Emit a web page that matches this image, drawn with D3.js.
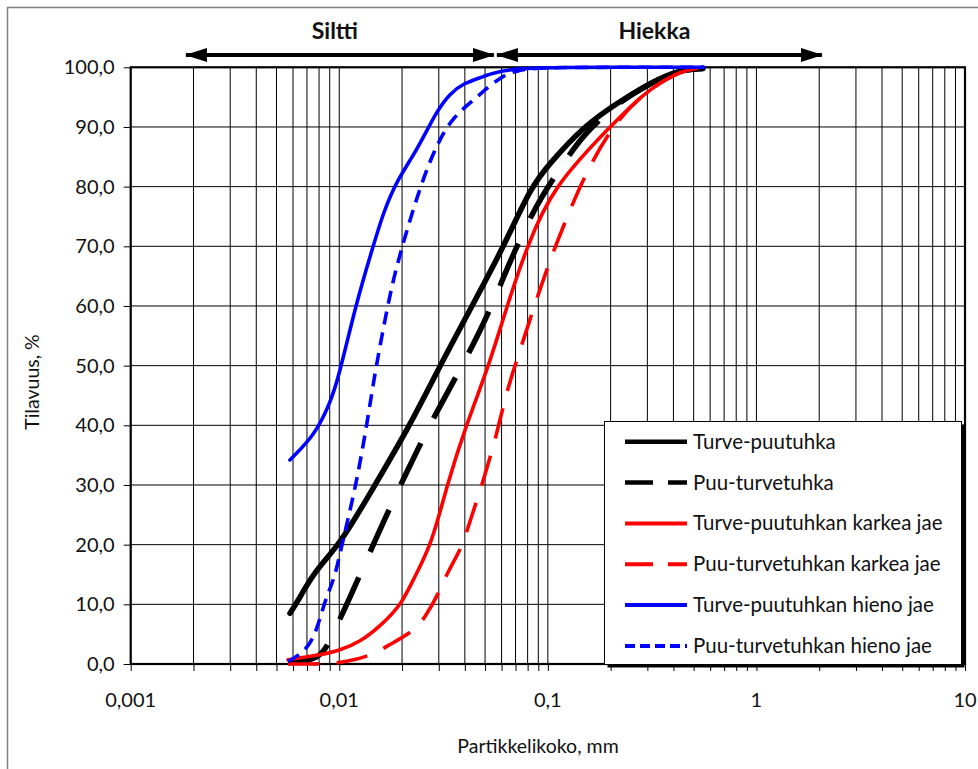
<!DOCTYPE html>
<html>
<head>
<meta charset="utf-8">
<script src="https://cdn.jsdelivr.net/npm/d3@7"></script>
<style>
  html, body { margin: 0; padding: 0; background: #fff; overflow: hidden; }
  svg { display: block; font-family: Lato, "Open Sans", sans-serif; }
</style>
</head>
<body>
<svg id="chart" width="978" height="769"></svg>
<script>
// particle size (mm), cumulative volume (%)
const turvePuutuhka = [
  [0.0058, 8.5], [0.0062, 10], [0.00765, 15.7], [0.01008, 20], [0.01483, 30],
  [0.02183, 40], [0.0304, 50], [0.0433, 60], [0.0616, 70], [0.083, 80],
  [0.1023, 83.9], [0.1474, 90], [0.2145, 94], [0.3087, 97.3], [0.4158, 99.5], [0.555, 99.8]
];
const puuTurvetuhka = [
  [0.00568, 0.2], [0.00808, 0.7], [0.00902, 4], [0.0103, 8.2], [0.01285, 15.7],
  [0.01435, 19.5], [0.0179, 27], [0.02065, 31.5], [0.0266, 39.5], [0.0297, 42.5],
  [0.03875, 50], [0.0462, 55], [0.057, 62], [0.0623, 65.5], [0.0777, 73],
  [0.0917, 78], [0.1249, 85], [0.1474, 88.6], [0.2145, 94], [0.3087, 97.3],
  [0.4158, 99.5], [0.555, 99.8]
];
const turveKarkea = [
  [0.00568, 0.7], [0.00808, 1.5], [0.01008, 2.3], [0.01257, 3.7], [0.01567, 6.3],
  [0.01991, 10], [0.02256, 14.1], [0.02773, 20], [0.03283, 30], [0.0405, 40],
  [0.0522, 50], [0.0637, 60], [0.0794, 70], [0.1058, 80], [0.1985, 90],
  [0.2858, 95.6], [0.4158, 99.2], [0.5187, 99.8]
];
const puuKarkea = [
  [0.00568, 0], [0.00826, 0], [0.00986, 0.1], [0.01404, 1.3], [0.01693, 3.0],
  [0.02256, 5.4], [0.02576, 7.7], [0.0304, 12.3], [0.03283, 15.2], [0.03875, 19.6],
  [0.04095, 22.4], [0.0489, 30.5], [0.057, 38.6], [0.0637, 45.9], [0.0719, 51.5],
  [0.0848, 59.3], [0.1023, 67.7], [0.1235, 74.9], [0.154, 82.7], [0.2051, 90.3],
  [0.2858, 95.6], [0.4158, 99.2], [0.5187, 99.8]
];
const turveHieno = [
  [0.0058, 34.2], [0.00765, 38.4], [0.00902, 43.7], [0.00986, 47.6], [0.01216, 61],
  [0.01451, 69.9], [0.0162, 75.5], [0.0189, 81.1], [0.0236, 86.1], [0.0294, 92.8],
  [0.034, 95.6], [0.0392, 97.3], [0.0489, 98.4], [0.0637, 100], [0.2, 100], [0.56, 100]
];
const puuHieno = [
  [0.00568, 0.4], [0.007, 2.3], [0.00782, 5.7], [0.00854, 10.7], [0.00943, 14.1],
  [0.01008, 18.5], [0.01089, 23.6], [0.01216, 30.8], [0.01358, 40.3], [0.01451, 46.7],
  [0.01533, 51.5], [0.0175, 62.1], [0.01954, 68.8], [0.02437, 80], [0.0294, 87.2],
  [0.0351, 91.7], [0.0457, 95], [0.0589, 98.4], [0.0711, 99.5], [0.0917, 100],
  [0.3, 100], [0.56, 100]
];

const seriesNames = [
  'Turve-puutuhka', 'Puu-turvetuhka', 'Turve-puutuhkan karkea jae',
  'Puu-turvetuhkan karkea jae', 'Turve-puutuhkan hieno jae', 'Puu-turvetuhkan hieno jae'
];
const seriesData = [turvePuutuhka, puuTurvetuhka, turveKarkea, puuKarkea, turveHieno, puuHieno];

const yTicks = [0, 10, 20, 30, 40, 50, 60, 70, 80, 90, 100];
const xDecades = [0.001, 0.01, 0.1, 1, 10];
const xLabels = ['0,001', '0,01', '0,1', '1', '10'];

// soil class bands (mm)
const bands = [
  { label: 'Siltti', from: 0.00184, to: 0.0551 },
  { label: 'Hiekka', from: 0.057, to: 2.06 }
];

// styles
const styles = [
  { color: '#000', width: 5.5, dash: null, legendDash: null, legendWidth: 4.5 },
  { color: '#000', width: 5.5, dash: '46,28', legendDash: '28,15', legendWidth: 4.5 },
  { color: '#ff0000', width: 3.6, dash: null, legendDash: null, legendWidth: 4 },
  { color: '#ff0000', width: 3.6, dash: '31,18', legendDash: '28,15', legendWidth: 4 },
  { color: '#0000ff', width: 3.6, dash: null, legendDash: null, legendWidth: 4 },
  { color: '#0000ff', width: 3.6, dash: '13,8', legendDash: '10,5', legendWidth: 4 }
];

const svg = d3.select('#chart');

// outer chart border
svg.append('rect')
  .attr('x', 7.5).attr('y', 7.5)
  .attr('width', 990).attr('height', 790)
  .attr('fill', '#fff').attr('stroke', '#808080').attr('stroke-width', 1.5);

const x = d3.scaleLog().domain([0.001, 10]).range([130.7, 965]);
const y = d3.scaleLinear().domain([0, 100]).range([664, 67.3]);

// gridlines
const grid = svg.append('g');
grid.selectAll('line.v')
  .data(x.ticks())
  .join('line')
  .attr('class', 'v')
  .attr('x1', d => x(d)).attr('x2', d => x(d))
  .attr('y1', y(0)).attr('y2', y(100))
  .attr('stroke', '#000').attr('stroke-width', 1);
grid.selectAll('line.h')
  .data(yTicks)
  .join('line')
  .attr('class', 'h')
  .attr('x1', x(0.001)).attr('x2', x(10))
  .attr('y1', d => y(d)).attr('y2', d => y(d))
  .attr('stroke', '#000').attr('stroke-width', 1);

// plot frame
svg.append('rect')
  .attr('x', x(0.001)).attr('y', y(100))
  .attr('width', x(10) - x(0.001)).attr('height', y(0) - y(100))
  .attr('fill', 'none').attr('stroke', '#000').attr('stroke-width', 2.2);

// y axis
const yAxis = svg.append('g')
  .attr('transform', `translate(${x(0.001)},0)`)
  .call(d3.axisLeft(y).tickValues(yTicks).tickSize(7).tickPadding(9)
    .tickFormat(d => d.toFixed(1).replace('.', ',')));
yAxis.select('.domain').remove();
yAxis.selectAll('line').attr('stroke', '#000').attr('stroke-width', 1);
yAxis.selectAll('text')
  .attr('font-size', 20).attr('font-family', 'Lato, sans-serif').attr('fill', '#111');

// x axis: minor ticks + decade labels
const xAxis = svg.append('g')
  .attr('transform', `translate(0,${y(0)})`)
  .call(d3.axisBottom(x).tickValues(x.ticks()).tickSize(7).tickFormat(''));
xAxis.select('.domain').remove();
xAxis.selectAll('line').attr('stroke', '#000').attr('stroke-width', 1);

svg.append('g')
  .selectAll('text')
  .data(xDecades)
  .join('text')
  .attr('x', (d, i) => x(d))
  .attr('y', 707)
  .attr('text-anchor', 'middle')
  .attr('font-size', 20).attr('fill', '#111')
  .text((d, i) => xLabels[i]);

// axis titles
svg.append('text')
  .attr('x', 538).attr('y', 753)
  .attr('text-anchor', 'middle')
  .attr('font-size', 19.5).attr('fill', '#111')
  .text('Partikkelikoko, mm');

svg.append('text')
  .attr('transform', 'translate(39,382) rotate(-90)')
  .attr('text-anchor', 'middle')
  .attr('font-size', 19.5).attr('fill', '#111')
  .text('Tilavuus, %');

// curves
const line = d3.line()
  .x(d => x(d[0]))
  .y(d => y(d[1]))
  .curve(d3.curveBasis);

svg.append('g')
  .selectAll('path')
  .data(seriesData)
  .join('path')
  .attr('d', d => line(d))
  .attr('fill', 'none')
  .attr('stroke', (d, i) => styles[i].color)
  .attr('stroke-width', (d, i) => styles[i].width)
  .attr('stroke-dasharray', (d, i) => styles[i].dash)
  .attr('stroke-linejoin', 'round')
  .attr('stroke-linecap', (d, i) => styles[i].dash ? 'butt' : 'round');

// soil class arrows
const defs = svg.append('defs');
defs.append('marker')
  .attr('id', 'head')
  .attr('viewBox', '0 0 22 14')
  .attr('refX', 21).attr('refY', 7)
  .attr('markerUnits', 'userSpaceOnUse')
  .attr('markerWidth', 22).attr('markerHeight', 14)
  .attr('orient', 'auto-start-reverse')
  .append('path')
  .attr('d', 'M0,0 L22,7 L0,14 Z')
  .attr('fill', '#000');

const bandG = svg.append('g');
bandG.selectAll('line')
  .data(bands)
  .join('line')
  .attr('x1', d => x(d.from)).attr('x2', d => x(d.to))
  .attr('y1', 55).attr('y2', 55)
  .attr('stroke', '#000').attr('stroke-width', 4)
  .attr('marker-start', 'url(#head)')
  .attr('marker-end', 'url(#head)');
bandG.selectAll('text')
  .data(bands)
  .join('text')
  .attr('x', d => (x(d.from) + x(d.to)) / 2 - 5)
  .attr('y', 39)
  .attr('text-anchor', 'middle')
  .attr('font-size', 23).attr('font-weight', 'bold').attr('fill', '#111')
  .text(d => d.label);

// legend
const lg = svg.append('g');
lg.append('rect')
  .attr('x', 607.5).attr('y', 424.5).attr('width', 357).attr('height', 243)
  .attr('fill', '#000');
lg.append('rect')
  .attr('x', 604.5).attr('y', 421.5).attr('width', 357).attr('height', 243)
  .attr('fill', '#fff').attr('stroke', '#000').attr('stroke-width', 1);

const items = lg.selectAll('g.item')
  .data(seriesNames)
  .join('g')
  .attr('class', 'item')
  .attr('transform', (d, i) => `translate(0,${441.7 + i * 40.85})`);
items.append('line')
  .attr('x1', 625).attr('x2', 687)
  .attr('stroke', (d, i) => styles[i].color)
  .attr('stroke-width', (d, i) => styles[i].legendWidth)
  .attr('stroke-dasharray', (d, i) => styles[i].legendDash);
items.append('text')
  .attr('x', 693).attr('y', 7)
  .attr('font-size', 20.5).attr('fill', '#111')
  .text(d => d);
</script>
</body>
</html>
